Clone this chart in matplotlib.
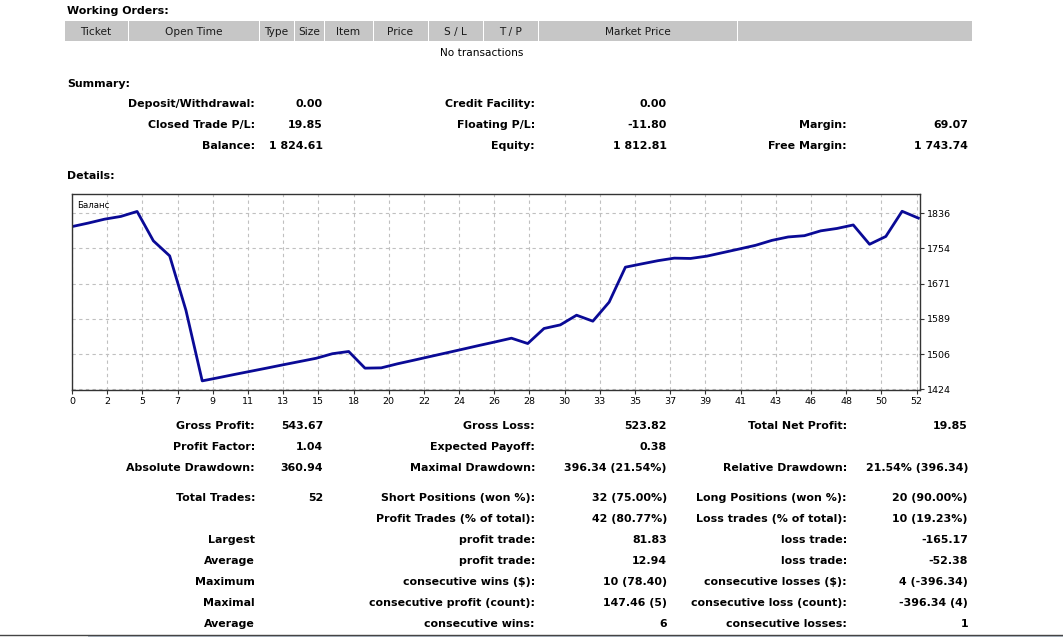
import matplotlib
matplotlib.use("Agg")
import matplotlib.pyplot as plt
from matplotlib.patches import Rectangle
import numpy as np

W, H = 1063, 637

# balance after each closed trade (index 0 = starting balance)
balance = [1804.76, 1813.00, 1822.10, 1828.50, 1840.16, 1771.40, 1736.30, 1608.99, 1443.82,
           1451.30, 1459.00, 1466.50, 1474.00, 1481.70, 1489.20, 1496.70, 1507.40, 1512.60,
           1473.60, 1474.30, 1483.80, 1492.20, 1500.80, 1509.30, 1517.90, 1526.60, 1535.00,
           1543.70, 1531.20, 1566.40, 1574.80, 1597.50, 1583.50, 1628.00, 1709.83, 1717.50,
           1725.00, 1730.96, 1730.20, 1735.60, 1744.00, 1752.40, 1761.00, 1772.50, 1780.50,
           1783.50, 1794.80, 1800.40, 1808.60, 1763.38, 1781.70, 1840.61, 1824.61]

x_labels = ['0', '2', '5', '7', '9', '11', '13', '15', '18', '20', '22', '24', '26',
            '28', '30', '33', '35', '37', '39', '41', '43', '46', '48', '50', '52']
y_labels = ['1424', '1506', '1589', '1671', '1754', '1836']

order_cols = ['Ticket', 'Open Time', 'Type', 'Size', 'Item', 'Price', 'S / L', 'T / P',
              'Market Price', '']
col_edges = [64, 128, 259, 294, 324, 373, 428, 483, 538, 737, 972]

summary = [
    ("Deposit/Withdrawal:", "0.00", "Credit Facility:", "0.00", "", ""),
    ("Closed Trade P/L:", "19.85", "Floating P/L:", "-11.80", "Margin:", "69.07"),
    ("Balance:", "1 824.61", "Equity:", "1 812.81", "Free Margin:", "1 743.74"),
]

details = [
    ("Gross Profit:", "543.67", "Gross Loss:", "523.82", "Total Net Profit:", "19.85"),
    ("Profit Factor:", "1.04", "Expected Payoff:", "0.38", "", ""),
    ("Absolute Drawdown:", "360.94", "Maximal Drawdown:", "396.34 (21.54%)",
     "Relative Drawdown:", "21.54% (396.34)"),
    ("Total Trades:", "52", "Short Positions (won %):", "32 (75.00%)",
     "Long Positions (won %):", "20 (90.00%)"),
    ("", "", "Profit Trades (% of total):", "42 (80.77%)",
     "Loss trades (% of total):", "10 (19.23%)"),
    ("Largest", "", "profit trade:", "81.83", "loss trade:", "-165.17"),
    ("Average", "", "profit trade:", "12.94", "loss trade:", "-52.38"),
    ("Maximum", "", "consecutive wins ($):", "10 (78.40)",
     "consecutive losses ($):", "4 (-396.34)"),
    ("Maximal", "", "consecutive profit (count):", "147.46 (5)",
     "consecutive loss (count):", "-396.34 (4)"),
    ("Average", "", "consecutive wins:", "6", "consecutive losses:", "1"),
]

plt.rcParams['font.family'] = ['DejaVu Sans']

fig = plt.figure(figsize=(W / 100, H / 100), dpi=100)
bg = fig.add_axes([0, 0, 1, 1])
bg.set_xlim(0, W)
bg.set_ylim(H, 0)
bg.axis('off')

fs = 7.9
fs_reg = 7.6
bg.text(67, 11, "Working Orders:", fontsize=fs, fontweight='bold', va='center')

# header bar of the orders table
for i, name in enumerate(order_cols):
    x0, x1 = col_edges[i], col_edges[i + 1]
    bg.add_patch(Rectangle((x0 + 1, 21), x1 - x0 - 1, 20, facecolor='#c6c6c6', edgecolor='none'))
    if name:
        bg.text((x0 + x1) / 2, 32, name, fontsize=fs_reg, ha='center', va='center', color='#1a1a1a')
bg.text(482, 53, "No transactions", fontsize=fs_reg, ha='center', va='center')

bg.text(67, 84, "Summary:", fontsize=fs, fontweight='bold', va='center')
bg.text(67, 176, "Details:", fontsize=fs, fontweight='bold', va='center')

right_x = [255, 323, 535, 667, 847, 968]


def put_rows(rows, ys):
    for row, y in zip(rows, ys):
        for txt, x in zip(row, right_x):
            if txt:
                bg.text(x, y, txt, fontsize=fs, fontweight='bold', ha='right', va='center')


put_rows(summary, [104, 125, 146])
put_rows(details, [426, 447, 468, 498, 519, 540, 561, 582, 603, 624])

# bottom separator line
bg.plot([0, W], [634.5, 634.5], color='#444444', lw=1)
bg.add_patch(Rectangle((88, 635), W - 88, 2, facecolor='#b8c4d0', edgecolor='none'))

# balance chart
ax = fig.add_axes([72 / W, (H - 390) / H, 848 / W, 196 / H])
trades = np.arange(len(balance))
ax.plot(trades, balance, color='#0a0a96', lw=2.0, solid_joinstyle='round')
ax.set_xlim(0, 52.1)
ax.set_ylim(1422.5, 1881)

xt = np.arange(len(x_labels)) * 2.162
ax.set_xticks(xt)
ax.set_xticklabels(x_labels)
yt = 1424 + np.arange(len(y_labels)) * 82.4
ax.set_yticks(yt)
ax.set_yticklabels(y_labels)
ax.yaxis.tick_right()
ax.tick_params(axis='both', labelsize=6.8, length=3, width=0.8, color='#333333', pad=2)
ax.grid(True, color='#c0c0c0', linestyle=(0, (3, 3)), lw=0.8)
for s in ax.spines.values():
    s.set_color('#333333')
    s.set_linewidth(1)
ax.text(0.006, 0.965, "Баланс", transform=ax.transAxes, fontsize=6.2, va='top', ha='left')

fig.savefig("out.png", dpi=100)
